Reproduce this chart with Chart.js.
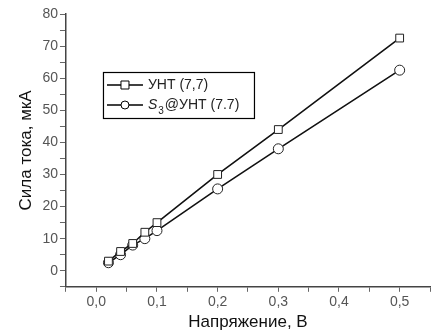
<!DOCTYPE html>
<html>
<head>
<meta charset="utf-8">
<script src="https://cdn.jsdelivr.net/npm/chart.js@4"></script>
<style>
    html, body { margin: 0; padding: 0; background: #fff; }
    #wrap { width: 438px; height: 334px; }
</style>
</head>
<body>
<div id="wrap"><canvas id="ivChart"></canvas></div>
<script>
// Données
const voltage = [0.02, 0.04, 0.06, 0.08, 0.1, 0.2, 0.3, 0.5];
const currentCnt = [3, 6, 8.5, 12, 15, 30, 44, 72.5];
const currentS3 = [2.5, 5, 8, 10, 12.5, 25.5, 38, 62.5];
const seriesLabels = ['УНТ (7,7)', 'S₃@УНТ (7,7)'];
const xTitle = 'Напряжение, В';
const yTitle = 'Сила тока, мкА';

const font = "'Liberation Sans', Arial, sans-serif";

function toPoints(xs, ys) {
    return xs.map((x, i) => ({ x: x, y: ys[i] }));
}

function isMajor(v, step) {
    const r = v / step;
    return Math.abs(r - Math.round(r)) < 1e-6;
}

// Légende dessinée à la main (S en italique, 3 en indice)
const legendBox = {
    id: 'legendBox',
    afterDraw(chart) {
        const ctx = chart.ctx;
        const a = chart.chartArea;
        const x = a.left + 37, y = a.top + 58, w = 151, h = 46;
        ctx.save();
        ctx.fillStyle = '#fff';
        ctx.fillRect(x, y, w, h);
        ctx.strokeStyle = '#000';
        ctx.lineWidth = 1.2;
        ctx.strokeRect(x + 0.5, y + 0.5, w, h);
        chart.data.datasets.forEach((ds, i) => {
            const cy = y + 13 + i * 20;
            ctx.strokeStyle = '#000';
            ctx.lineWidth = 1.5;
            ctx.beginPath();
            ctx.moveTo(x + 4, cy);
            ctx.lineTo(x + 40, cy);
            ctx.stroke();
            ctx.fillStyle = '#fff';
            ctx.lineWidth = 1;
            ctx.beginPath();
            if (ds.pointStyle === 'rect') {
                ctx.rect(x + 18, cy - 4, 8, 8);
            } else {
                ctx.arc(x + 22, cy, 4, 0, Math.PI * 2);
            }
            ctx.fill();
            ctx.stroke();
            ctx.fillStyle = '#222';
            ctx.textBaseline = 'middle';
            let tx = x + 45;
            if (i === 1) {
                ctx.font = 'italic 14px ' + font;
                ctx.fillText('S', tx, cy);
                tx += ctx.measureText('S').width + 1;
                ctx.font = '10px ' + font;
                ctx.fillText('3', tx, cy + 6);
                tx += ctx.measureText('3').width + 1;
                ctx.font = '14px ' + font;
                ctx.fillText('@УНТ (7.7)', tx, cy);
            } else {
                ctx.font = '14px ' + font;
                ctx.fillText(ds.label, tx, cy);
            }
        });
        ctx.restore();
    }
};

const chart = new Chart(document.getElementById('ivChart').getContext('2d'), {
    type: 'line',
    data: {
        datasets: [{
            label: seriesLabels[0],
            data: toPoints(voltage, currentCnt),
            borderColor: '#111',
            borderWidth: 1.6,
            pointStyle: 'rect',
            pointRadius: 5.5,
            pointBackgroundColor: '#fff',
            pointBorderColor: '#222',
            pointBorderWidth: 1,
            tension: 0,
            fill: false
        }, {
            label: seriesLabels[1],
            data: toPoints(voltage, currentS3),
            borderColor: '#111',
            borderWidth: 1.6,
            pointStyle: 'circle',
            pointRadius: 5,
            pointBackgroundColor: '#fff',
            pointBorderColor: '#222',
            pointBorderWidth: 1,
            tension: 0,
            fill: false
        }]
    },
    options: {
        responsive: true,
        maintainAspectRatio: false,
        animation: false,
        layout: { padding: { top: 14, right: 8, left: 16, bottom: 1 } },
        plugins: {
            legend: { display: false },
            tooltip: { enabled: false }
        },
        scales: {
            x: {
                type: 'linear',
                min: -0.05,
                max: 0.55,
                border: { color: '#444', width: 1.5 },
                grid: {
                    drawOnChartArea: false,
                    tickLength: 5,
                    tickColor: '#666'
                },
                ticks: {
                    stepSize: 0.05,
                    autoSkip: false,
                    maxRotation: 0,
                    color: '#555',
                    font: { family: font, size: 14 },
                    padding: 2,
                    callback: (v) => (isMajor(v, 0.1) && v > -0.01 && v < 0.51) ? v.toFixed(1).replace('.', ',') : ''
                },
                title: {
                    display: true,
                    text: xTitle,
                    color: '#111',
                    font: { family: font, size: 17 },
                    padding: { top: 0, bottom: 0 }
                }
            },
            y: {
                type: 'linear',
                min: -5,
                max: 80,
                border: { color: '#444', width: 1.5 },
                grid: {
                    drawOnChartArea: false,
                    tickLength: 6,
                    tickColor: '#666'
                },
                ticks: {
                    stepSize: 5,
                    autoSkip: false,
                    color: '#555',
                    font: { family: font, size: 14 },
                    padding: 2,
                    callback: (v) => (isMajor(v, 10) && v >= 0) ? String(v) : ''
                },
                title: {
                    display: true,
                    text: yTitle,
                    color: '#111',
                    font: { family: font, size: 17 },
                    padding: { top: 0, bottom: 4 }
                }
            }
        }
    },
    plugins: [legendBox]
});
</script>
</body>
</html>
